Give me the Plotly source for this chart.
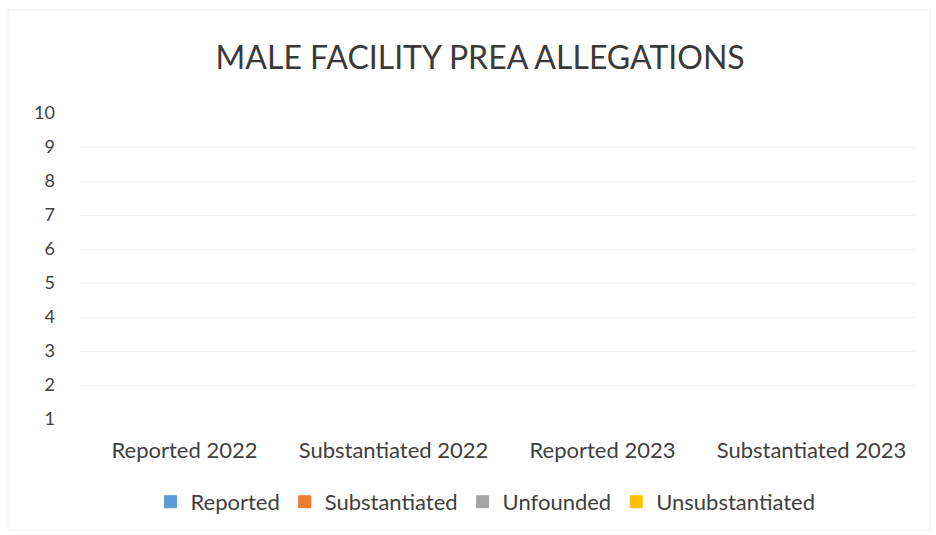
import plotly.graph_objects as go

categories = ["Reported 2022", "Substantiated 2022", "Reported 2023", "Substantiated 2023"]
series_names = ["Reported", "Substantiated", "Unfounded", "Unsubstantiated"]
reported = [0, 1, 0, 0]
substantiated = [0, 0, 0, 0]
unfounded = [1, 0, 0, 0]
unsubstantiated = [0, 0, 0, 1]
y_ticks = [1, 2, 3, 4, 5, 6, 7, 8, 9, 10]

colors = ["#5B9BD5", "#ED7D31", "#A5A5A5", "#FFC000"]
values = [reported, substantiated, unfounded, unsubstantiated]

FONT = "Lato"
TXT = "#404040"
fig = go.Figure()
for name, vals, c in zip(series_names, values, colors):
    fig.add_trace(go.Bar(
        x=categories, y=vals, name=name,
        marker=dict(color=c, line=dict(color=c, width=1)),
    ))

fig.update_layout(
    width=936, height=535,
    paper_bgcolor="white", plot_bgcolor="white",
    barmode="stack", bargap=0.67,
    margin=dict(l=80, r=20, t=113, b=116, autoexpand=False),
    title=dict(text="MALE FACILITY PREA ALLEGATIONS", x=0.513, xanchor="center",
               y=0.892, yanchor="middle",
               font=dict(family=FONT, size=32, color="#3a3a3a")),
    font=dict(family=FONT, color=TXT, size=18),
    legend=dict(orientation="h", x=0.485, xanchor="center", y=-0.271, yanchor="middle",
                font=dict(family=FONT, size=22, color=TXT),
                itemwidth=30, traceorder="normal"),
    xaxis=dict(showgrid=False, showline=False, ticks="", ticklabelstandoff=16,
               tickfont=dict(size=22, color=TXT)),
    yaxis=dict(range=[1, 10], tickvals=y_ticks, showgrid=True, gridcolor="#f4f4f4",
               zeroline=False, showline=False, ticks="", ticklabelstandoff=24,
               tickfont=dict(size=18, color=TXT)),
    shapes=[dict(type="rect", xref="paper", yref="paper", x0=-0.086, x1=1.017, y0=-0.363, y1=1.337,
                 line=dict(color="#f4f4f4", width=1))],
)

fig.write_html("out.html", config={"displayModeBar": False},
               post_script="document.body.style.margin='0';")
